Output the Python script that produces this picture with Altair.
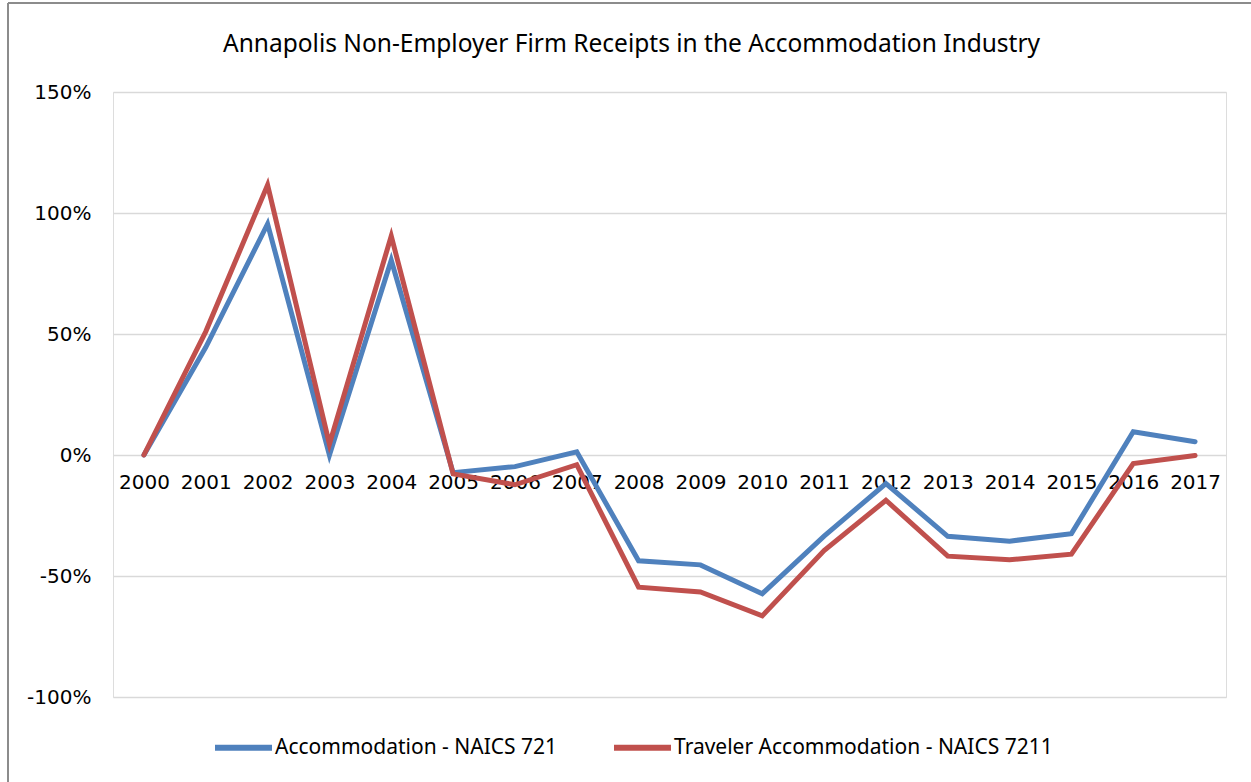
import altair as alt
import pandas as pd

years = [str(y) for y in range(2000, 2018)]
accommodation = [0, 44.5, 95.5, 0, 80.5, -7.3, -4.8, 1.3, -43.7, -45.4, -57.3, -33.5, -11.8, -33.6, -35.6, -32.5, 9.6, 5.5]
traveler = [0, 51, 111.6, 4.5, 90.5, -7.8, -12.3, -4, -54.6, -56.6, -66.5, -39.5, -18.7, -41.8, -43.3, -41, -3.5, -0.2]
series_names = ["Accommodation - NAICS 721", "Traveler Accommodation - NAICS 7211"]
colors = ["#4F81BD", "#C0504D"]

rows = []
for i, y in enumerate(years):
    rows.append({"year": y, "series": series_names[0], "value": accommodation[i] / 100})
    rows.append({"year": y, "series": series_names[1], "value": traveler[i] / 100})
df = pd.DataFrame(rows)

FONT = "Noto Sans"
AXFONT = "DejaVu Sans"
W, H = 1113, 605

lines = alt.Chart(df).mark_line(strokeWidth=5, strokeCap="round", strokeJoin="miter").encode(
    x=alt.X("year:O", sort=years, scale=alt.Scale(type="point", padding=0.5),
            axis=alt.Axis(title=None, offset=-242, domain=False, ticks=False,
                          labelAngle=0, labelPadding=17, labelFontSize=20, labelFont=AXFONT,
                          labelColor="#000000", grid=False)),
    y=alt.Y("value:Q", scale=alt.Scale(domain=[-1.0, 1.5], nice=False),
            axis=alt.Axis(title=None, format=".0%", values=[-1, -0.5, 0, 0.5, 1, 1.5],
                          labelExpr="replace(datum.label, '\u2212', '-')",
                          domain=False, ticks=False, labelPadding=22, labelFontSize=20,
                          labelFont=AXFONT, labelColor="#000000", gridColor="#d9d9d9",
                          gridWidth=1.5)),
    color=alt.Color("series:N", sort=series_names,
                    scale=alt.Scale(domain=series_names, range=colors),
                    legend=alt.Legend(title=None, orient="none", direction="horizontal",
                                      legendX=99, legendY=624, symbolType="stroke",
                                      symbolStrokeWidth=6, symbolSize=3249,
                                      labelFontSize=21, labelFont=FONT, labelColor="#000000",
                                      labelOffset=0, columnPadding=44, padding=0,
                                      labelLimit=600)),
    order=alt.Order("series:N")
)

border = alt.Chart(pd.DataFrame({"k": [0]})).mark_rule(color="#8c8c8c", strokeWidth=2).encode(
    x=alt.value(-105), x2=alt.value(W + 30), y=alt.value(-89)
)
border_left = alt.Chart(pd.DataFrame({"k": [0]})).mark_rule(color="#8c8c8c", strokeWidth=2).encode(
    x=alt.value(-105), y=alt.value(-89), y2=alt.value(H + 90)
)

chart = alt.layer(border, border_left, lines).properties(
    width=W, height=H,
    title=alt.Title("Annapolis Non-Employer Firm Receipts in the Accommodation Industry",
                    font=FONT, fontSize=24.5, fontWeight="normal", color="#000000",
                    anchor="middle", dx=-38, offset=-55),
    autosize=alt.AutoSizeParams(type="none"),
    padding={"left": 113, "top": 92, "right": 25, "bottom": 85},
).configure_view(stroke=None).configure(background="white")

chart.save("out.html", embed_options={"renderer": "svg", "actions": False})
